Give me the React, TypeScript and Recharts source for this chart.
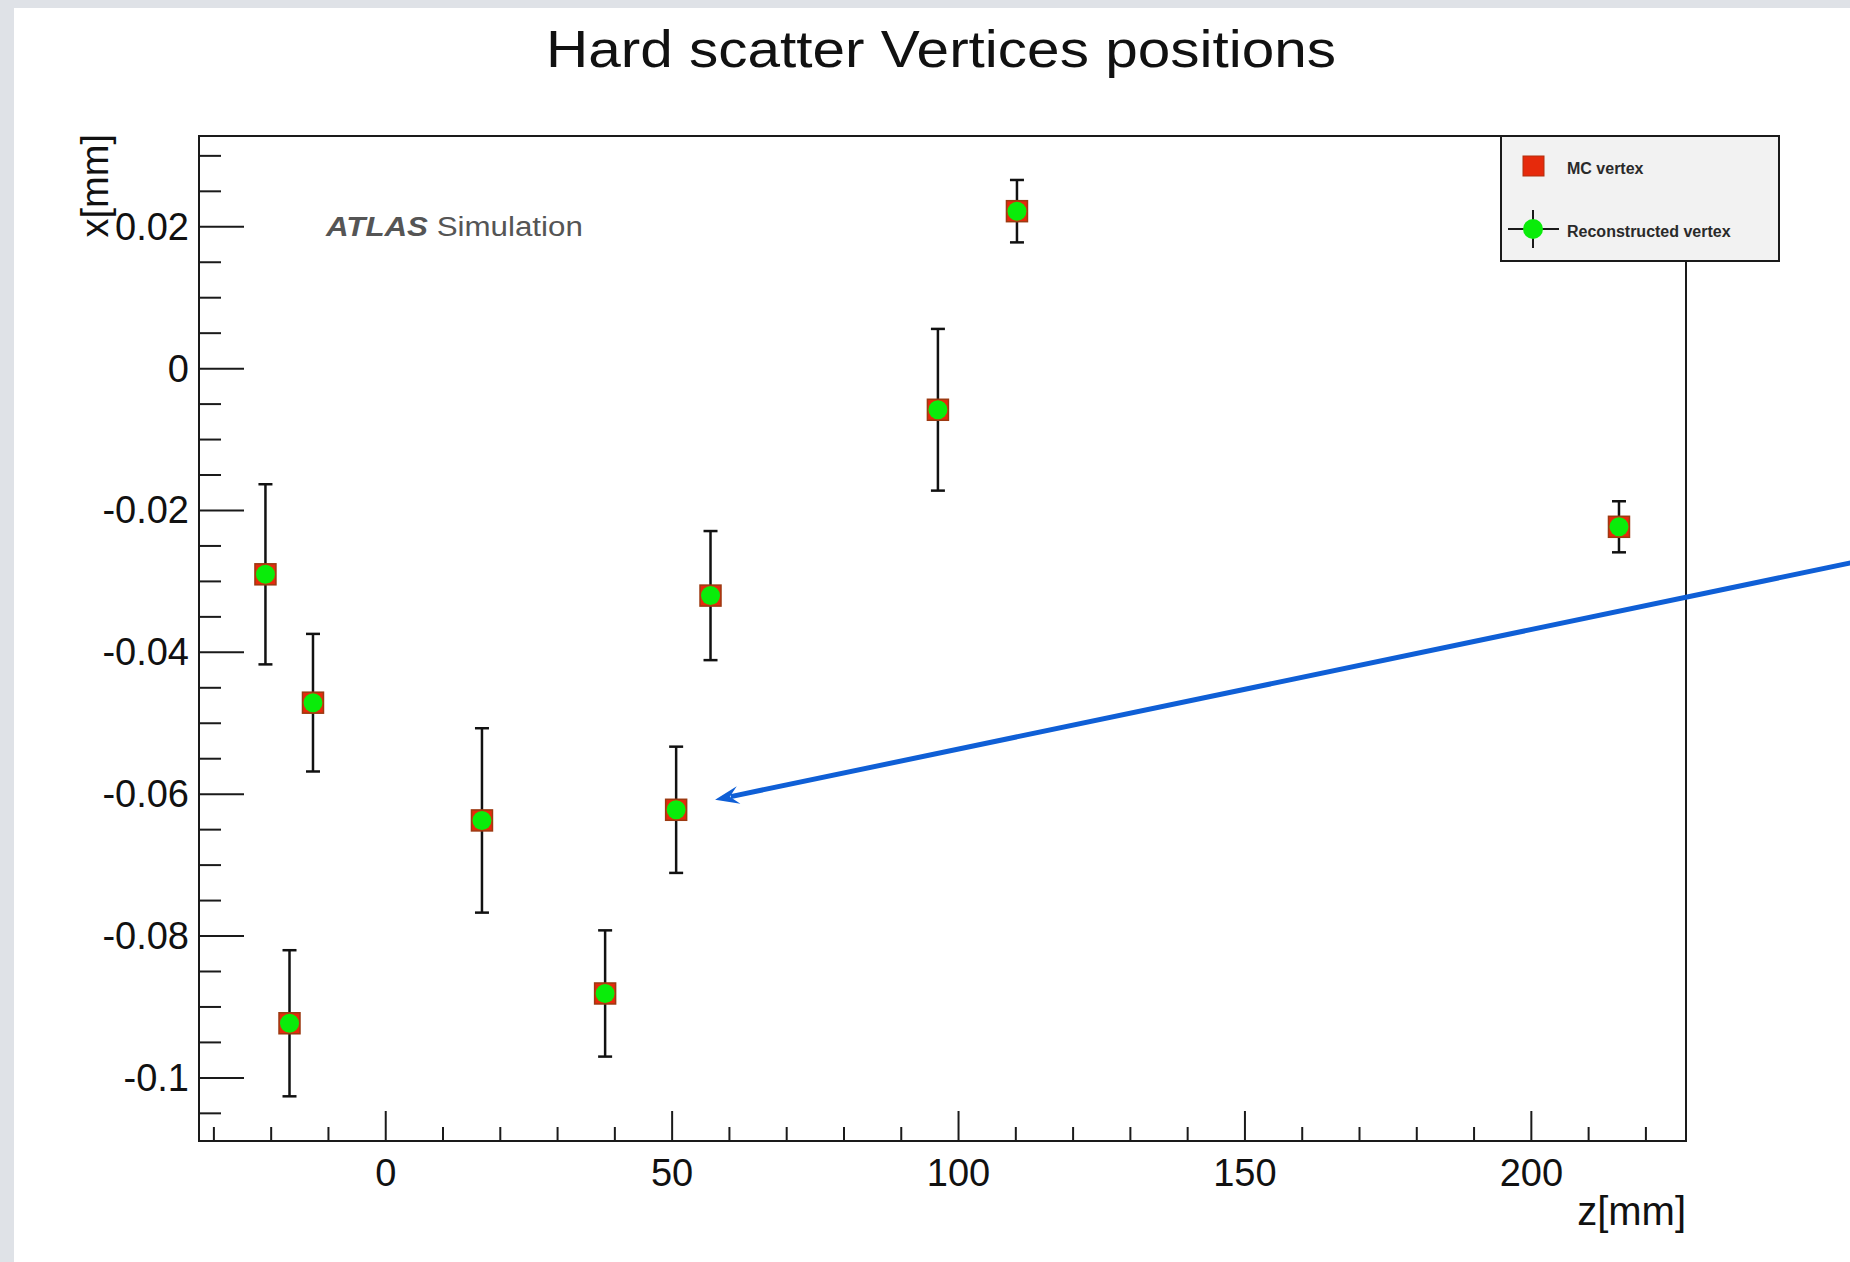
import React from 'react';
import {
  ScatterChart,
  Scatter,
  XAxis,
  YAxis,
  ErrorBar,
  ReferenceArea,
  ReferenceLine,
  Legend,
} from 'recharts';

// ─── Data ────────────────────────────────────────────────────────────────────

// MC truth vertices: z [mm] and x [mm]
const mcZ = [-21.0, -16.8, -12.7, 16.8, 38.3, 50.7, 56.7, 96.4, 110.2, 215.3];
const mcX = [-0.029, -0.0923, -0.0471, -0.0637, -0.0881, -0.0622, -0.032, -0.0058, 0.0222, -0.0223];

// reconstructed vertices + vertical uncertainty
const recoZ = [-21.0, -16.8, -12.7, 16.8, 38.3, 50.7, 56.7, 96.4, 110.2, 215.3];
const recoX = [-0.029, -0.0923, -0.0471, -0.0637, -0.0881, -0.0622, -0.032, -0.0058, 0.0222, -0.0223];
const recoErr = [0.0127, 0.0103, 0.0097, 0.013, 0.0089, 0.0089, 0.0091, 0.0114, 0.0044, 0.0036];

const xMajorTicks = [0, 50, 100, 150, 200];
const xMinorTicks = [-30, -20, -10, 10, 20, 30, 40, 60, 70, 80, 90, 110, 120, 130, 140, 160, 170, 180, 190, 210, 220];
const yMajorTicks = [-0.1, -0.08, -0.06, -0.04, -0.02, 0, 0.02];
const yMinorTicks = [
  -0.105, -0.095, -0.09, -0.085, -0.075, -0.07, -0.065, -0.055, -0.05, -0.045, -0.035,
  -0.03, -0.025, -0.015, -0.01, -0.005, 0.005, 0.01, 0.015, 0.025, 0.03,
];

const xDomain = [-32.6, 227];
const yDomain = [-0.1089, 0.0328];

// annotation arrow, tail -> head, in data units
const arrowZ = [258, 57.5];
const arrowX = [-0.027, -0.0608];

// ─── Layout ──────────────────────────────────────────────────────────────────

const W = 1850;
const H = 1262;
const PLOT = { left: 199, top: 136, right: 1686, bottom: 1141 };
const Y_AXIS_W = 100;
const X_AXIS_H = 60;
const FONT = '"Liberation Sans", Arial, Helvetica, sans-serif';
const INK = '#1a1a1a';
const RED = '#e62a0c';
const GREEN = '#0aec0a';

const mcData = mcZ.map((z, i) => ({ z, x: mcX[i] }));
const recoData = recoZ.map((z, i) => ({ z, x: recoX[i], err: recoErr[i] }));
const xTicks = [...xMinorTicks, ...xMajorTicks].sort((a, b) => a - b);
const yTicks = [...yMinorTicks, ...yMajorTicks].sort((a, b) => a - b);

const isMajor = (v: number, list: number[]) => list.some((t) => Math.abs(t - v) < 1e-9);
const fmt = (v: number) => String(Number(v.toFixed(3)));

// ─── Ticks (ROOT style: drawn inward) ────────────────────────────────────────

function YTick({ x, y, payload }: any) {
  const major = isMajor(payload.value, yMajorTicks);
  return (
    <g>
      <line x1={x} y1={y} x2={x + (major ? 45 : 22)} y2={y} stroke={INK} strokeWidth={2} />
      {major && (
        <text x={x - 10} y={y} textAnchor="end" dominantBaseline="central" fontSize={38} fontFamily={FONT} fill="#111">
          {fmt(payload.value)}
        </text>
      )}
    </g>
  );
}

function XTick({ x, y, payload }: any) {
  const major = isMajor(payload.value, xMajorTicks);
  return (
    <g>
      <line x1={x} y1={y} x2={x} y2={y - (major ? 30 : 14)} stroke={INK} strokeWidth={2} />
      {major && (
        <text x={x} y={y + 45} textAnchor="middle" fontSize={38} fontFamily={FONT} fill="#111">
          {fmt(payload.value)}
        </text>
      )}
    </g>
  );
}

// ─── Markers ─────────────────────────────────────────────────────────────────

function McSquare({ cx, cy }: any) {
  return <rect x={cx - 10.5} y={cy - 10.5} width={21} height={21} fill={RED} stroke="#9c3a12" strokeWidth={1.5} />;
}

function RecoDot({ cx, cy }: any) {
  return <circle cx={cx} cy={cy} r={9.5} fill={GREEN} />;
}

function Arrow({ x1, y1, x2, y2 }: any) {
  const len = Math.hypot(x2 - x1, y2 - y1) || 1;
  const ux = (x2 - x1) / len;
  const uy = (y2 - y1) / len;
  const nx = -uy;
  const ny = ux;
  const head = 24;
  const half = 9;
  const pts = [
    [x2, y2],
    [x2 - ux * head + nx * half, y2 - uy * head + ny * half],
    [x2 - ux * 15, y2 - uy * 15],
    [x2 - ux * head - nx * half, y2 - uy * head - ny * half],
  ];
  return (
    <g>
      <line x1={x1} y1={y1} x2={x2 - ux * 16} y2={y2 - uy * 16} stroke="#0f5fd6" strokeWidth={5} />
      <polygon points={pts.map((p) => p.join(',')).join(' ')} fill="#0f5fd6" />
    </g>
  );
}

// ─── Legend box ──────────────────────────────────────────────────────────────

function LegendBox({ payload = [] }: any) {
  return (
    <div style={{ width: 280, height: 127, boxSizing: 'border-box', border: `2px solid ${INK}`, background: '#f2f2f2' }}>
      <svg width={276} height={123} style={{ display: 'block' }}>
        {payload.map((entry: any, i: number) => {
          const cy = i === 0 ? 29 : 92;
          return (
            <g key={entry.value}>
              {i === 0 ? (
                <rect x={21} y={cy - 10} width={21} height={20} fill={RED} stroke="#b0300f" strokeWidth={1} />
              ) : (
                <g>
                  <line x1={6} y1={cy} x2={57} y2={cy} stroke={INK} strokeWidth={2} />
                  <line x1={31} y1={cy - 19} x2={31} y2={cy + 19} stroke={INK} strokeWidth={2} />
                  <circle cx={31} cy={cy} r={10} fill={GREEN} />
                </g>
              )}
              <text x={65} y={cy + 2} dominantBaseline="central" fontSize={16} fontWeight="bold" fontFamily={FONT} fill="#2a2a2a">
                {entry.value}
              </text>
            </g>
          );
        })}
      </svg>
    </div>
  );
}

export default function App() {
  return (
    <div style={{ position: 'absolute', left: 0, top: 0, width: W, height: H, background: '#dfe2e7', overflow: 'hidden' }}>
      <div style={{ position: 'absolute', left: 14, top: 8, right: 0, bottom: 0, background: '#ffffff' }} />
      <div style={{ position: 'absolute', left: 0, top: 0 }}>
        <ScatterChart
          width={W}
          height={H}
          margin={{
            top: PLOT.top,
            right: W - PLOT.right,
            bottom: H - PLOT.bottom - X_AXIS_H,
            left: PLOT.left - Y_AXIS_W,
          }}
        >
          <XAxis
            type="number"
            dataKey="z"
            domain={xDomain}
            allowDataOverflow
            ticks={xTicks}
            interval={0}
            height={X_AXIS_H}
            tickSize={0}
            tickMargin={0}
            tickLine={false}
            axisLine={{ stroke: INK, strokeWidth: 2 }}
            tick={<XTick />}
          />
          <YAxis
            type="number"
            dataKey="x"
            domain={yDomain}
            allowDataOverflow
            ticks={yTicks}
            interval={0}
            width={Y_AXIS_W}
            tickSize={0}
            tickMargin={0}
            tickLine={false}
            axisLine={{ stroke: INK, strokeWidth: 2 }}
            tick={<YTick />}
          />
          <ReferenceArea
            x1={xDomain[0]}
            x2={xDomain[1]}
            y1={yDomain[0]}
            y2={yDomain[1]}
            fill="none"
            stroke={INK}
            strokeWidth={2}
            ifOverflow="visible"
          />
          <Scatter name="MC vertex" data={mcData} shape={<McSquare />} isAnimationActive={false} />
          <Scatter name="Reconstructed vertex" data={recoData} shape={<RecoDot />} isAnimationActive={false}>
            <ErrorBar dataKey="err" direction="y" width={7} stroke="#111" strokeWidth={2.5} />
          </Scatter>
          <ReferenceLine
            segment={[
              { x: arrowZ[0], y: arrowX[0] },
              { x: arrowZ[1], y: arrowX[1] },
            ]}
            ifOverflow="visible"
            shape={<Arrow />}
          />
          <Legend
            layout="vertical"
            align="center"
            verticalAlign="middle"
            wrapperStyle={{ left: 1500, top: 135, width: 280, height: 127 }}
            content={<LegendBox />}
          />
        </ScatterChart>
      </div>
      <svg width={W} height={H} style={{ position: 'absolute', left: 0, top: 0, pointerEvents: 'none' }}>
        <text x={941} y={67} textAnchor="middle" fontSize={52} textLength={790} lengthAdjust="spacingAndGlyphs" fontFamily={FONT} fill="#111">
          Hard scatter Vertices positions
        </text>
        <g transform="translate(326,236) scale(1.16,1)">
          <text x={0} y={0} fontSize={27} fontFamily={FONT} fill="#555">
            <tspan fontWeight="bold" fontStyle="italic">ATLAS</tspan>
            <tspan> Simulation</tspan>
          </text>
        </g>
        <text transform="translate(108,134) rotate(-90)" textAnchor="end" fontSize={38} fontFamily={FONT} fill="#111">
          x[mm]
        </text>
        <text x={PLOT.right} y={1225} textAnchor="end" fontSize={40} fontFamily={FONT} fill="#111">
          z[mm]
        </text>
      </svg>
    </div>
  );
}
